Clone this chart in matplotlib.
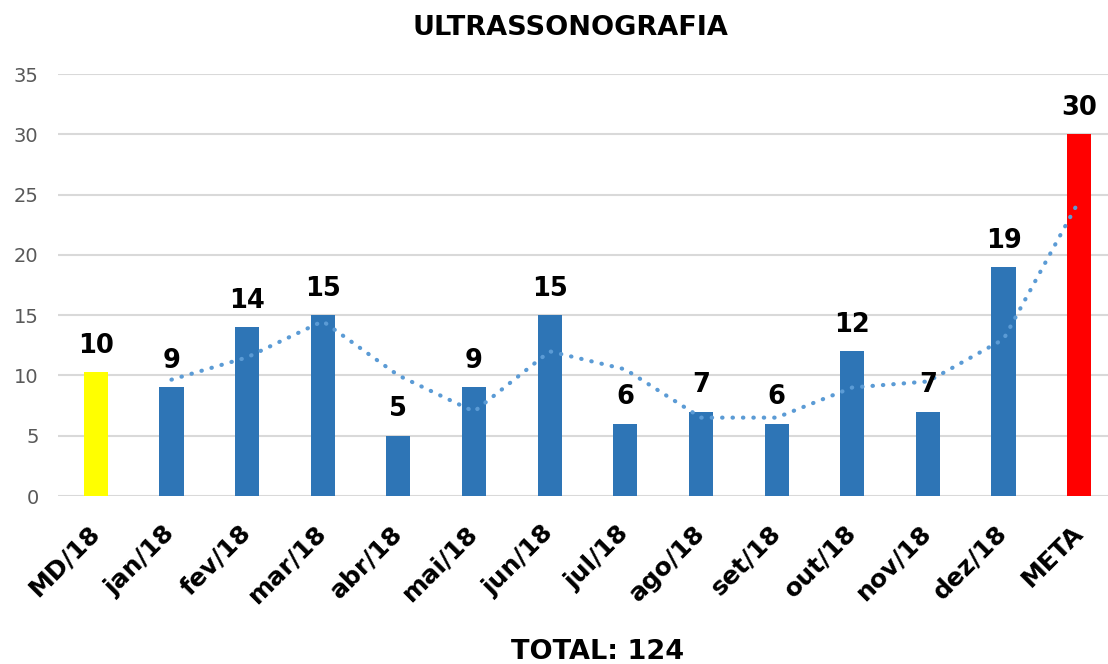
import numpy as np
import matplotlib
matplotlib.use("Agg")
import matplotlib.pyplot as plt

# monthly ultrasound exam counts
categories = ["MD/18", "jan/18", "fev/18", "mar/18", "abr/18", "mai/18", "jun/18",
              "jul/18", "ago/18", "set/18", "out/18", "nov/18", "dez/18", "META"]
values = [10.3, 9, 14, 15, 5, 9, 15, 6, 7, 6, 12, 7, 19, 30]
bar_colors = ["#FFFF00"] + ["#2E75B6"] * 12 + ["#FF0000"]
total_label = "TOTAL: 124"

fig = plt.figure(figsize=(11.08, 6.64), dpi=100)
ax = fig.add_axes([58 / 1108, (664 - 496) / 664, (1117 - 58) / 1108, 422 / 664])

x = np.arange(len(categories))
ax.bar(x, values, width=0.32, color=bar_colors, zorder=3)

# 2-period moving average trendline
vals = np.array(values, dtype=float)
ma = (vals[1:] + vals[:-1]) / 2
ax.plot(x[1:], ma, color="#5B9BD5", linestyle=(0, (0.1, 2.4)), linewidth=3,
        dash_capstyle="round", zorder=4)

for xi, v in zip(x, values):
    ax.text(xi, v + 1.1, f"{v:.0f}", ha="center", va="bottom",
            fontsize=18.5, fontweight="bold", color="black", zorder=5)

ax.set_xlim(-0.5, len(categories) - 0.5)
ax.set_ylim(0, 35)
ax.set_yticks(range(0, 36, 5))
ax.yaxis.grid(True, color="#D9D9D9", linewidth=1.5, zorder=0)
ax.set_axisbelow(True)
for s in ax.spines.values():
    s.set_visible(False)
ax.tick_params(axis="both", length=0)
ax.tick_params(axis="y", labelsize=14, labelcolor="#595959", pad=14)

ax.set_xticks(x)
ax.set_xticklabels(categories, rotation=45, ha="right", va="center",
                   rotation_mode="anchor", fontsize=18, fontweight="bold")
ax.tick_params(axis="x", pad=24)

fig.text(570 / 1108, 1 - 28 / 664, "ULTRASSONOGRAFIA", ha="center", va="center",
         fontsize=19.5, fontweight="bold")
fig.text(598 / 1108, 1 - 652 / 664, total_label, ha="center", va="center",
         fontsize=19.5, fontweight="bold")

fig.savefig("out.png", dpi=100)
